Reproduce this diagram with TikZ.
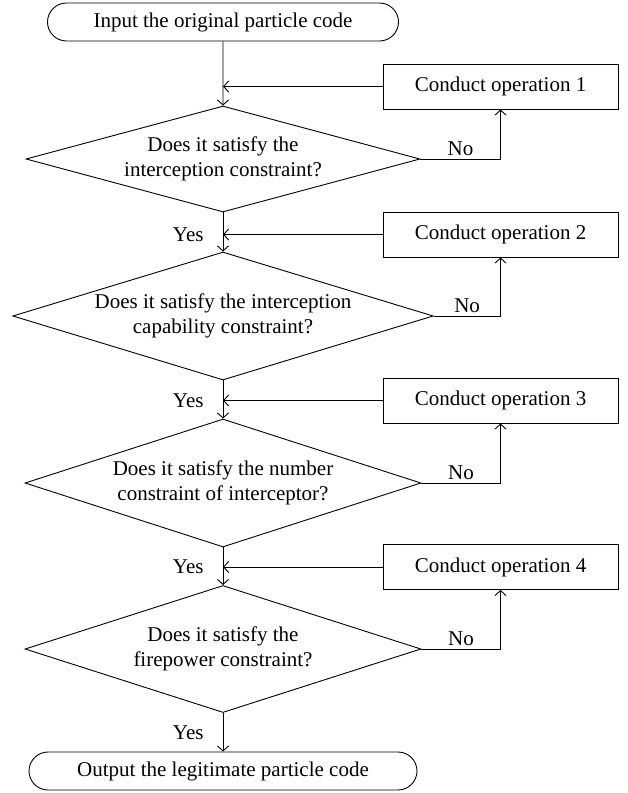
\documentclass[tikz,border=0pt]{standalone}
\usepackage{fontspec}
\setmainfont{Liberation Serif}
\usepackage{tikz}
\usetikzlibrary{calc,shapes.geometric,shapes.misc,arrows.meta,positioning}
\tikzstyle{terminal}=[draw,rounded rectangle,minimum height=38pt,inner sep=0pt]
\tikzstyle{decision}=[draw,diamond,align=center,inner sep=0pt,aspect=3.7]
\tikzstyle{operation}=[draw,rectangle,minimum width=235pt,minimum height=45pt,inner sep=0pt]
\tikzstyle{flow}=[draw,-{Straight Barb[length=5pt,width=11pt]}]
\tikzstyle{answer}=[inner sep=0pt]

\begin{document}
\begin{tikzpicture}[x=1pt,y=-1pt,line width=0.9pt,font=\fontsize{21}{25}\selectfont]
\useasboundingbox (0,0) rectangle (627,793);
\node [terminal,minimum width=351pt] (start) at (223,22) {Input the original particle code};
\node [decision,minimum width=394pt,minimum height=106pt] (d1) at (223,159) {Does it satisfy the\\interception constraint?};
\node [decision,minimum width=418pt,minimum height=128pt] (d2) at (223,316) {Does it satisfy the interception\\capability constraint?};
\node [decision,minimum width=396pt,minimum height=128pt] (d3) at (223,483) {Does it satisfy the number\\constraint of interceptor?};
\node [decision,minimum width=396pt,minimum height=127pt] (d4) at (223,649) {Does it satisfy the\\firepower constraint?};
\node [terminal,minimum width=388pt] (stop) at (223,771) {Output the legitimate particle code};
\node [operation] (op1) at (500.5,86.5) {Conduct operation 1};
\node [operation] (op2) at (500.5,234.5) {Conduct operation 2};
\node [operation] (op3) at (500.5,400.5) {Conduct operation 3};
\node [operation] (op4) at (500.5,567) {Conduct operation 4};
\coordinate (j1) at (op1.west -| d1.north);
\coordinate (j2) at (op2.west -| d2.north);
\coordinate (j3) at (op3.west -| d3.north);
\coordinate (j4) at (op4.west -| d4.north);
\coordinate (j5) at ($(d4.south)!0.5!(stop.north)$);
\draw [flow] (start) -- (d1);
\draw [flow] (d1) -- (d2);
\draw [flow] (d2) -- (d3);
\draw [flow] (d3) -- (d4);
\draw [flow] (d4) -- (stop);
\draw [flow] (op1) -- (j1);
\draw [flow] (op2) -- (j2);
\draw [flow] (op3) -- (j3);
\draw [flow] (op4) -- (j4);
\draw [flow] (d1.east) -| node [above,pos=0.25] {No} (op1.south);
\draw [flow] (d2.east) -| node [above,pos=0.25] {No} (op2.south);
\draw [flow] (d3.east) -| node [above,pos=0.25] {No} (op3.south);
\draw [flow] (d4.east) -| node [above,pos=0.25] {No} (op4.south);
\node [answer,left=19pt of j2] (yes1) {Yes};
\node [answer,left=19pt of j3] (yes2) {Yes};
\node [answer,left=19pt of j4] (yes3) {Yes};
\node [answer,left=19pt of j5] (yes4) {Yes};
\end{tikzpicture}
\end{document}
